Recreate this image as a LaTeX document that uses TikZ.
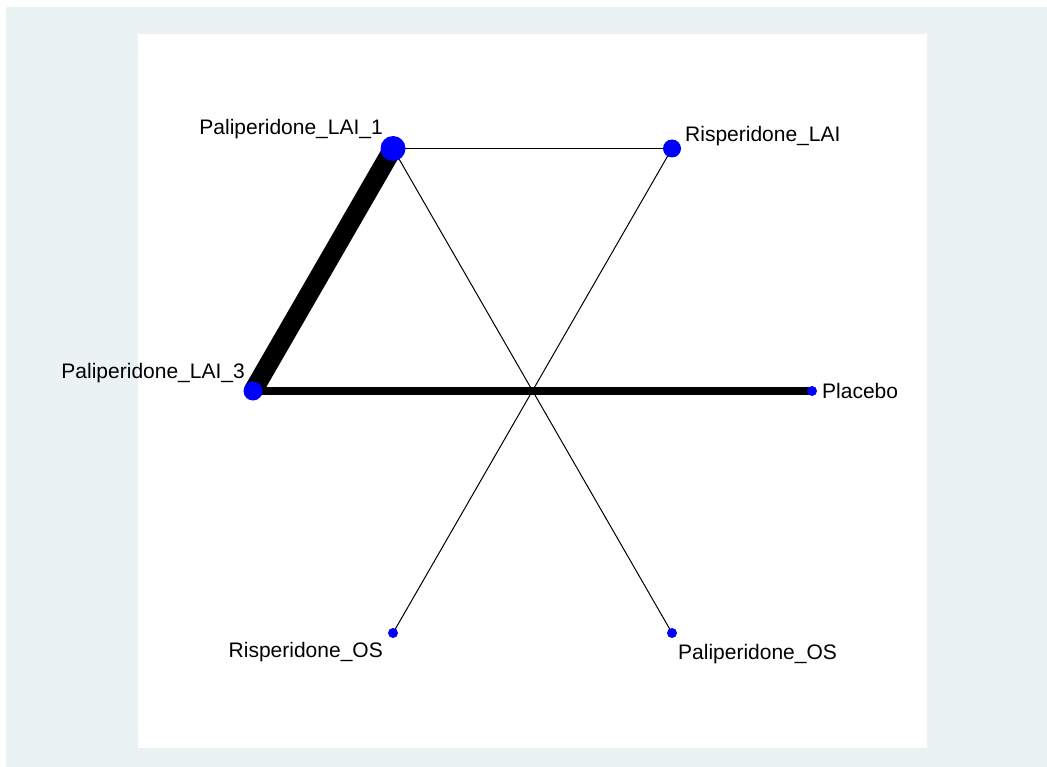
\documentclass[tikz,border=0pt]{standalone}
\usepackage{fontspec}
\setmainfont{Liberation Sans}
\usepackage{xcolor}
\usepackage{tikz}
\usetikzlibrary{positioning}
\definecolor{bluishgray}{RGB}{234,242,243}
\tikzset{
    dot/.style={
        circle, fill=blue, draw=none, inner sep=0pt
    },
    tag/.style={
        inner sep=0pt, font=\fontsize{21}{25}\selectfont
    },
    edge/.style={draw=black, line width=1pt, line cap=butt}
}

\begin{document}
\begin{tikzpicture}[x=1pt,y=-1pt]

% ---- frame ----
\useasboundingbox (0,0) rectangle (1047,767);
\fill[white] (0,0) rectangle (1047,767);
\fill[bluishgray] (6,7) rectangle (1047,767);
\fill[white] (138,34) rectangle (927,748);

% ---- treatments (hexagon round the centre) ----
\coordinate (lai1) at (393,148.5);
\coordinate (rlai) at (672,148.5);
\coordinate (lai3) at (253,391);
\coordinate (plac) at (812,391);
\coordinate (ros)  at (393,633);
\coordinate (pos)  at (672,633);

% ---- comparisons ----
\draw[edge, line width=19pt] (lai1) -- (lai3);
\draw[edge, line width=7.5pt] (lai3) -- (plac);
\draw[edge, line width=0.8pt] (lai1) -- (rlai);
\draw[edge] (lai1) -- (pos);
\draw[edge] (rlai) -- (ros);

% ---- dots ----
\node[dot, minimum size=25pt] (lai1dot) at (lai1) {};
\node[dot, minimum size=18pt] (rlaidot) at (rlai) {};
\node[dot, minimum size=19pt] (lai3dot) at (lai3) {};
\node[dot, minimum size=10pt] (placdot) at (plac) {};
\node[dot, minimum size=10pt] (rosdot)  at (ros)  {};
\node[dot, minimum size=10pt] (posdot)  at (pos)  {};

% ---- labels ----
\node[tag, anchor=base east] (lai1lab) at (383,134.5) {Paliperidone\_LAI\_1};
\node[tag, anchor=base west] (rlailab) at (685,142)   {Risperidone\_LAI};
\node[tag, anchor=base east] (lai3lab) at (245,378)   {Paliperidone\_LAI\_3};
\node[tag, anchor=base west] (placlab) at (822,398)   {Placebo};
\node[tag, anchor=base east] (roslab)  at (383,657)   {Risperidone\_OS};
\node[tag, anchor=base west] (poslab)  at (678,659)   {Paliperidone\_OS};

\end{tikzpicture}
\end{document}
